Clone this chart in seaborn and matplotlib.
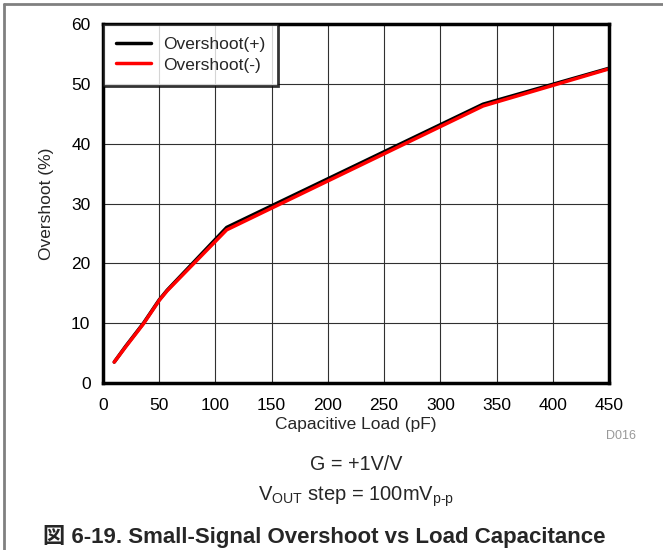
import matplotlib
matplotlib.use('Agg')
import matplotlib.pyplot as plt
import seaborn as sns
import pandas as pd

# capacitive load (pF) and overshoot (%)
cap_pos = [10, 20, 36, 50, 57, 110, 338, 450]
over_pos = [3.5, 6.1, 10.0, 13.9, 15.5, 26.0, 46.6, 52.6]
cap_neg = [10, 20, 36, 50, 57, 110, 338, 450]
over_neg = [3.5, 6.0, 9.9, 13.8, 15.4, 25.6, 46.3, 52.5]
series = ['Overshoot(+)', 'Overshoot(-)']
colors = ['black', 'red']

df = pd.concat([
    pd.DataFrame({'cap': cap_pos, 'over': over_pos, 'series': series[0]}),
    pd.DataFrame({'cap': cap_neg, 'over': over_neg, 'series': series[1]}),
])

sns.set_style('white')
plt.rcParams['font.family'] = ['Liberation Sans', 'Noto Sans CJK JP', 'DejaVu Sans']
plt.rcParams['mathtext.fontset'] = 'custom'
plt.rcParams['mathtext.rm'] = 'Liberation Sans'

fig = plt.figure(figsize=(6.63, 5.50), dpi=100)
ax = fig.add_axes([103/663, 1 - 383/550, 506/663, 359/550])

sns.lineplot(data=df, x='cap', y='over', hue='series', palette=colors,
             sort=False, estimator=None, linewidth=2.5, ax=ax)

ax.set_xlim(0, 450)
ax.set_ylim(0, 60)
ax.set_xticks(range(0, 451, 50))
ax.set_yticks(range(0, 61, 10))
ax.grid(True, color='#303030', linewidth=0.8)
ax.set_axisbelow(True)
for s in ax.spines.values():
    s.set_visible(True)
    s.set_color('black')
    s.set_linewidth(2.5)
ax.tick_params(labelsize=12.5, length=0, colors='black')
ax.tick_params(axis='x', pad=11)
ax.tick_params(axis='y', pad=9)
ax.set_xlabel('Capacitive Load (pF)', fontsize=12.5, labelpad=3)
ax.set_ylabel('Overshoot (%)', fontsize=12.5, labelpad=12)

leg = ax.legend(loc='upper left', borderaxespad=0, fontsize=12.5, frameon=True,
                fancybox=False, handlelength=2.0, borderpad=0.75,
                labelspacing=0.3, handletextpad=0.7)
leg.get_frame().set_edgecolor('black')
leg.get_frame().set_linewidth(2)
for line in leg.get_lines():
    line.set_linewidth(2.5)

fig.text(621/663, 1 - 436/550, 'D016', fontsize=9, color='#999999', ha='center', va='center')
fig.text(356/663, 1 - 465/550, 'G = +1V/V', fontsize=14.2, ha='center', va='center')
fig.text(356/663, 1 - 497/550, r'V$_{\mathregular{OUT}}$ step = 100mV$_{\text{p-p}}$',
         fontsize=14.5, ha='center', va='center')
fig.text(324/663, 1 - 537/550, '図 6-19. Small-Signal Overshoot vs Load Capacitance',
         fontsize=16, fontweight='bold', ha='center', va='center')

# gray frame around the figure (left and top)
frame_kw = dict(color='#808080', linewidth=2, transform=fig.transFigure)
fig.add_artist(plt.Line2D([4/663, 4/663], [0, 1 - 4/550], **frame_kw))
fig.add_artist(plt.Line2D([4/663, 1], [1 - 4/550, 1 - 4/550], **frame_kw))

fig.savefig('out.png', dpi=100)
